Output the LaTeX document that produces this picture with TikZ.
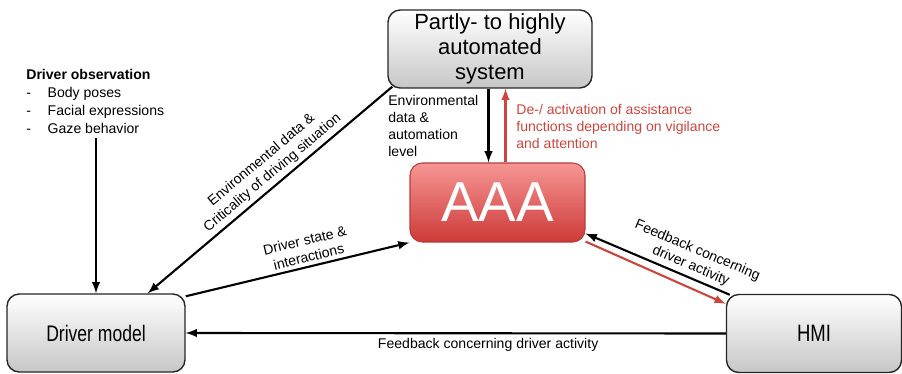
\documentclass[tikz,border=0pt]{standalone}
\usepackage{fontspec}
\setmainfont{Liberation Sans}
\newfontfamily\narrowfont[FakeStretch=0.78]{Liberation Sans}
\usepackage{xcolor}
\usetikzlibrary{calc,arrows,positioning}
\definecolor{aaatop}{RGB}{246,150,148}
\definecolor{aaabot}{RGB}{204,58,56}
\definecolor{aaaline}{RGB}{185,60,58}
\definecolor{actred}{RGB}{205,70,62}

\begin{document}
\begin{tikzpicture}
		[   gbox/.style={draw=black!85,line width=0.8pt,rounded corners=7pt,top color=white,bottom color=black!22,minimum height=1.56cm,minimum width=#1,align=center,inner sep=1pt},
		    abox/.style={draw=aaaline,line width=0.6pt,rounded corners=7pt,top color=aaatop,bottom color=aaabot,minimum width=3.5cm,minimum height=1.58cm,text=white,font=\fontsize{32}{36}\selectfont},
		    lbl/.style={font=\fontsize{8}{9.6}\selectfont,align=center,inner sep=2pt},
		]
		\tikzset{normal arrow/.style={draw,line width=1.2pt,-latex}}
		\tikzset{back arrow/.style={draw,line width=1.2pt,latex-}}
		\tikzset{red arrow/.style={draw=actred,line width=1.2pt,-latex}}
		\useasboundingbox (0,0) rectangle (18.04,-7.48);

		\node[gbox=4.08cm,font=\fontsize{12.5}{14.3}\selectfont] (sys) at (9.8,-0.98) {Partly- to highly\\automated\\system};
		\node[abox] (aaa) at (9.95,-4.05) {AAA};
		\node[gbox=3.56cm,font=\narrowfont\fontsize{12.8}{15}\selectfont] (drv) at (1.92,-6.66) {Driver model};
		\node[gbox=3.5cm,font=\narrowfont\fontsize{13.5}{15}\selectfont] (hmi) at (16.28,-6.67) {HMI};

		\node[anchor=north west,align=left,inner sep=0pt,font=\fontsize{8}{10.2}\selectfont] (obs) at (0.52,-1.38)
			{\textbf{Driver observation}\\-\hspace{9.5pt}Body poses\\-\hspace{9.5pt}Facial expressions\\-\hspace{9.5pt}Gaze behavior};

		% labels next to the vertical arrows
		\node[anchor=north west,align=left,inner sep=0pt,font=\fontsize{8}{9.6}\selectfont] (envlvl) at (7.76,-1.9)
			{Environmental\\data \&\\automation\\level};
		\node[anchor=north west,align=left,inner sep=0pt,text=actred,font=\fontsize{8}{9.6}\selectfont] (deact) at (10.32,-2.08)
			{De-/ activation of assistance\\functions depending on vigilance\\and attention};

		\path[normal arrow] ([yshift=-0.08cm]obs.south -| drv.north) -- (drv.north);
		\path[back arrow] ([xshift=-0.76cm]drv.north east) -- node[lbl,above=0pt,sloped,pos=0.54] {Environmental data \&\\Criticality of driving situation} ([xshift=0.1cm,yshift=0.04cm]sys.south west);
		\path[normal arrow] ([yshift=-0.06cm]drv.north east) -- node[lbl,above,sloped,pos=0.56] {Driver state \&\\interactions} (aaa.south west);

		\path[normal arrow] ([xshift=-0.18cm]aaa.north |- sys.south) -- ([xshift=-0.18cm]aaa.north);
		\path[red arrow] ([xshift=0.16cm]aaa.north) -- ([xshift=0.16cm]aaa.north |- sys.south);

		\path[back arrow] ([yshift=0.18cm]aaa.south east) -- node[lbl,above,sloped,pos=0.7] {Feedback concerning\\driver activity} ([xshift=0.08cm,yshift=-0.02cm]hmi.north west);
		\path[red arrow] ([yshift=0.02cm]aaa.south east) -- ([yshift=-0.2cm]hmi.north west);

		\path[normal arrow] (hmi.west) -- node[lbl,below,pos=0.44] {Feedback concerning driver activity} (drv.east);
\end{tikzpicture}
\end{document}
